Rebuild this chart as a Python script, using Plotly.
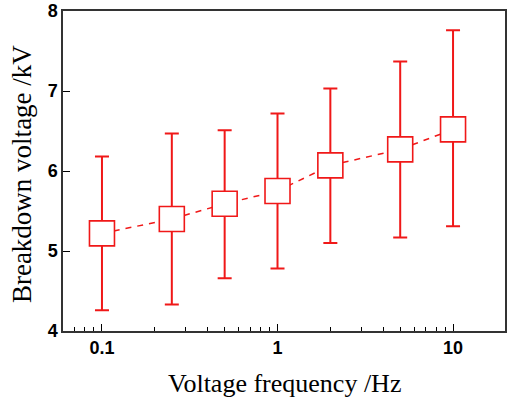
import plotly.graph_objects as go

freq = [0.1, 0.25, 0.5, 1, 2, 5, 10]
mean_kv = [5.22, 5.40, 5.59, 5.75, 6.07, 6.27, 6.52]
upper_kv = [6.18, 6.47, 6.51, 6.72, 7.03, 7.37, 7.76]
lower_kv = [4.26, 4.33, 4.66, 4.78, 5.10, 5.17, 5.31]

x_ticks = [0.1, 1, 10]
x_ticktext = ["0.1", "1", "10"]
x_minor = [0.07, 0.08, 0.09, 0.2, 0.3, 0.4, 0.5, 0.6, 0.7, 0.8, 0.9,
           2, 3, 4, 5, 6, 7, 8, 9]
y_ticks = [4, 5, 6, 7, 8]
x_title = "Voltage frequency /Hz"
y_title = "Breakdown voltage /kV"

err_plus = [u - m for u, m in zip(upper_kv, mean_kv)]
err_minus = [m - l for m, l in zip(mean_kv, lower_kv)]

RED = "#f01818"
TITLE_FONT = dict(family="Liberation Serif, Times New Roman", size=26, color="black")
YTITLE_FONT = dict(family="Liberation Serif, Times New Roman", size=27, color="black")
TICK_FONT = dict(family="Liberation Sans, Arial", size=18, color="black", weight="bold")

fig = go.Figure()
fig.add_trace(go.Scatter(
    x=freq, y=mean_kv, mode="lines",
    line=dict(color=RED, width=1.5, dash="6px,6px"),
    hoverinfo="skip", showlegend=False,
))
fig.add_trace(go.Scatter(
    x=freq, y=mean_kv, mode="markers",
    marker=dict(symbol="square", size=25, color="white",
                line=dict(color=RED, width=1.6)),
    error_y=dict(type="data", symmetric=False, array=err_plus,
                 arrayminus=err_minus, color=RED, thickness=2, width=7),
    showlegend=False,
))

fig.update_layout(
    width=510, height=399,
    margin=dict(l=63, r=5, t=11, b=68),
    plot_bgcolor="white", paper_bgcolor="white",
    font=dict(family="Liberation Sans, Arial", color="black"),
    annotations=[
        dict(text=x_title, xref="paper", yref="paper", x=0.5, y=-0.1625,
             xanchor="center", yanchor="middle", showarrow=False, font=TITLE_FONT),
        dict(text=y_title, xref="paper", yref="paper", x=-0.093, y=0.49,
             xanchor="center", yanchor="middle", textangle=-90, showarrow=False,
             font=YTITLE_FONT),
    ],
)
fig.update_xaxes(
    type="log", range=[-1.222, 1.296], automargin=False,
    tickvals=x_ticks, ticktext=x_ticktext,
    ticks="inside", ticklen=7, tickwidth=1.2, tickcolor="black",
    minor=dict(tickvals=x_minor, ticks="inside", ticklen=4, tickwidth=1, tickcolor="black"),
    showline=True, linecolor="#333", linewidth=1.5, mirror=True,
    showgrid=False, zeroline=False, tickfont=TICK_FONT,
)
fig.update_yaxes(
    range=[4, 8], tickvals=y_ticks, automargin=False,
    ticks="inside", ticklen=7, tickwidth=1.2, tickcolor="black",
    showline=True, linecolor="#333", linewidth=1.5, mirror=True,
    showgrid=False, zeroline=False, tickfont=TICK_FONT,
)

fig.write_html("out.html", config={"displayModeBar": False},
               post_script="document.body.style.margin='0';document.body.style.overflow='hidden';")
